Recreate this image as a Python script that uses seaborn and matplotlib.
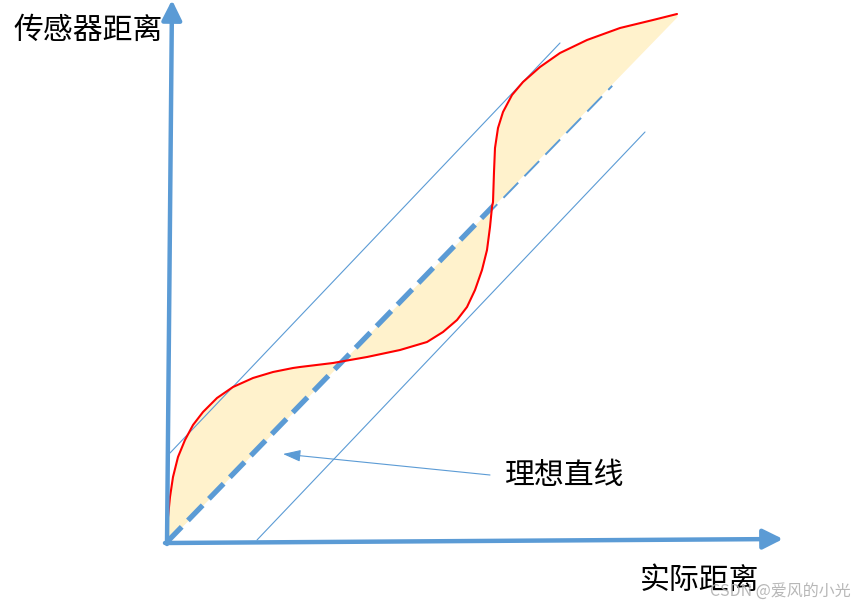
import numpy as np
import pandas as pd
import seaborn as sns
import matplotlib.pyplot as plt

# actual distance vs sensor distance (arbitrary units, origin at the axis corner)
actual = [0, 1, 3, 6, 11, 18, 26, 36, 50, 66, 86, 106, 126, 133, 166, 200, 233, 260,
          276, 290, 300, 308, 315, 320, 323, 325, 326, 327, 328, 331, 336, 345, 356,
          373, 393, 420, 453, 486, 510]
sensor = [0, 25, 45, 65, 85, 102, 117, 130, 144, 155, 164, 170, 174, 175, 179, 185, 192, 200,
          210, 222, 235, 252, 272, 292, 315, 335, 340, 370, 394, 414, 430, 447, 460,
          475, 489, 502, 514, 522, 528]
ideal_slope = 1.03
ideal_end = 444
band_upper = ([3, 393], [89, 499])
band_lower = ([90, 478], [2, 410])

BLUE = '#5B9BD5'
RED = '#FF0000'
FILL = '#FFF2CC'


def makePlot(imageFile):
    sns.set_theme(style='white')
    plt.rcParams['font.family'] = ['Noto Sans CJK SC', 'DejaVu Sans']

    fig = plt.figure(figsize=(8.61, 6.06), dpi=100)
    ax = fig.add_axes([0, 0, 1, 1])
    ax.set_xlim(-167, 694)
    ax.set_ylim(-64, 542)
    ax.axis('off')

    curve = pd.DataFrame({'actual': actual, 'sensor': sensor})
    curve['ideal'] = curve['actual'] * ideal_slope
    low = curve[curve['actual'] <= 326]
    high = curve[curve['actual'] >= 325]
    ax.fill_between(low['actual'], low['ideal'], low['sensor'], color=FILL, lw=0, zorder=1)
    ax.fill_between(high['actual'], high['ideal'], high['sensor'], color=FILL, lw=0, zorder=3)

    ideal = pd.DataFrame({'x': [0, ideal_end]})
    ideal['y'] = ideal['x'] * ideal_slope
    sns.lineplot(data=ideal, x='x', y='y', ax=ax, color=BLUE, lw=3.8,
                 linestyle=(0, (4, 1.7)), dash_capstyle='butt', zorder=2)

    for xs, ys in (band_upper, band_lower):
        sns.lineplot(x=xs, y=ys, ax=ax, color=BLUE, lw=0.8, zorder=2)

    sns.lineplot(data=curve, x='actual', y='sensor', ax=ax, color=RED, lw=1.5,
                 sort=False, zorder=4)

    # axes with arrow heads
    axis_arrow = dict(arrowstyle='-|>,head_length=1.0,head_width=0.5', color=BLUE,
                      lw=3.2, shrinkA=0, shrinkB=0)
    ax.annotate('', xy=(616, 3), xytext=(-2, -1), arrowprops=axis_arrow, zorder=5)
    ax.annotate('', xy=(5, 542), xytext=(0, -2), arrowprops=axis_arrow, zorder=5)

    ax.annotate('', xy=(116, 88), xytext=(323, 67),
                arrowprops=dict(arrowstyle='-|>,head_length=0.9,head_width=0.3',
                                color=BLUE, lw=0.8, shrinkA=0, shrinkB=0), zorder=5)

    ax.text(338, 66, '理想直线', fontsize=21.5, ha='left', va='center', color='black')
    ax.text(-154, 512, '传感器距离', fontsize=21.5, ha='left', va='center', color='black')
    ax.text(473, -38, '实际距离', fontsize=21.5, ha='left', va='center', color='black')
    ax.text(543, -49, 'CSDN @爱风的小光', fontsize=11.5, ha='left', va='center',
            color='#B0B0B0', alpha=0.9)

    plt.savefig(imageFile, dpi=100)


def main():
    makePlot('out.png')


if __name__ == "__main__":
    main()
